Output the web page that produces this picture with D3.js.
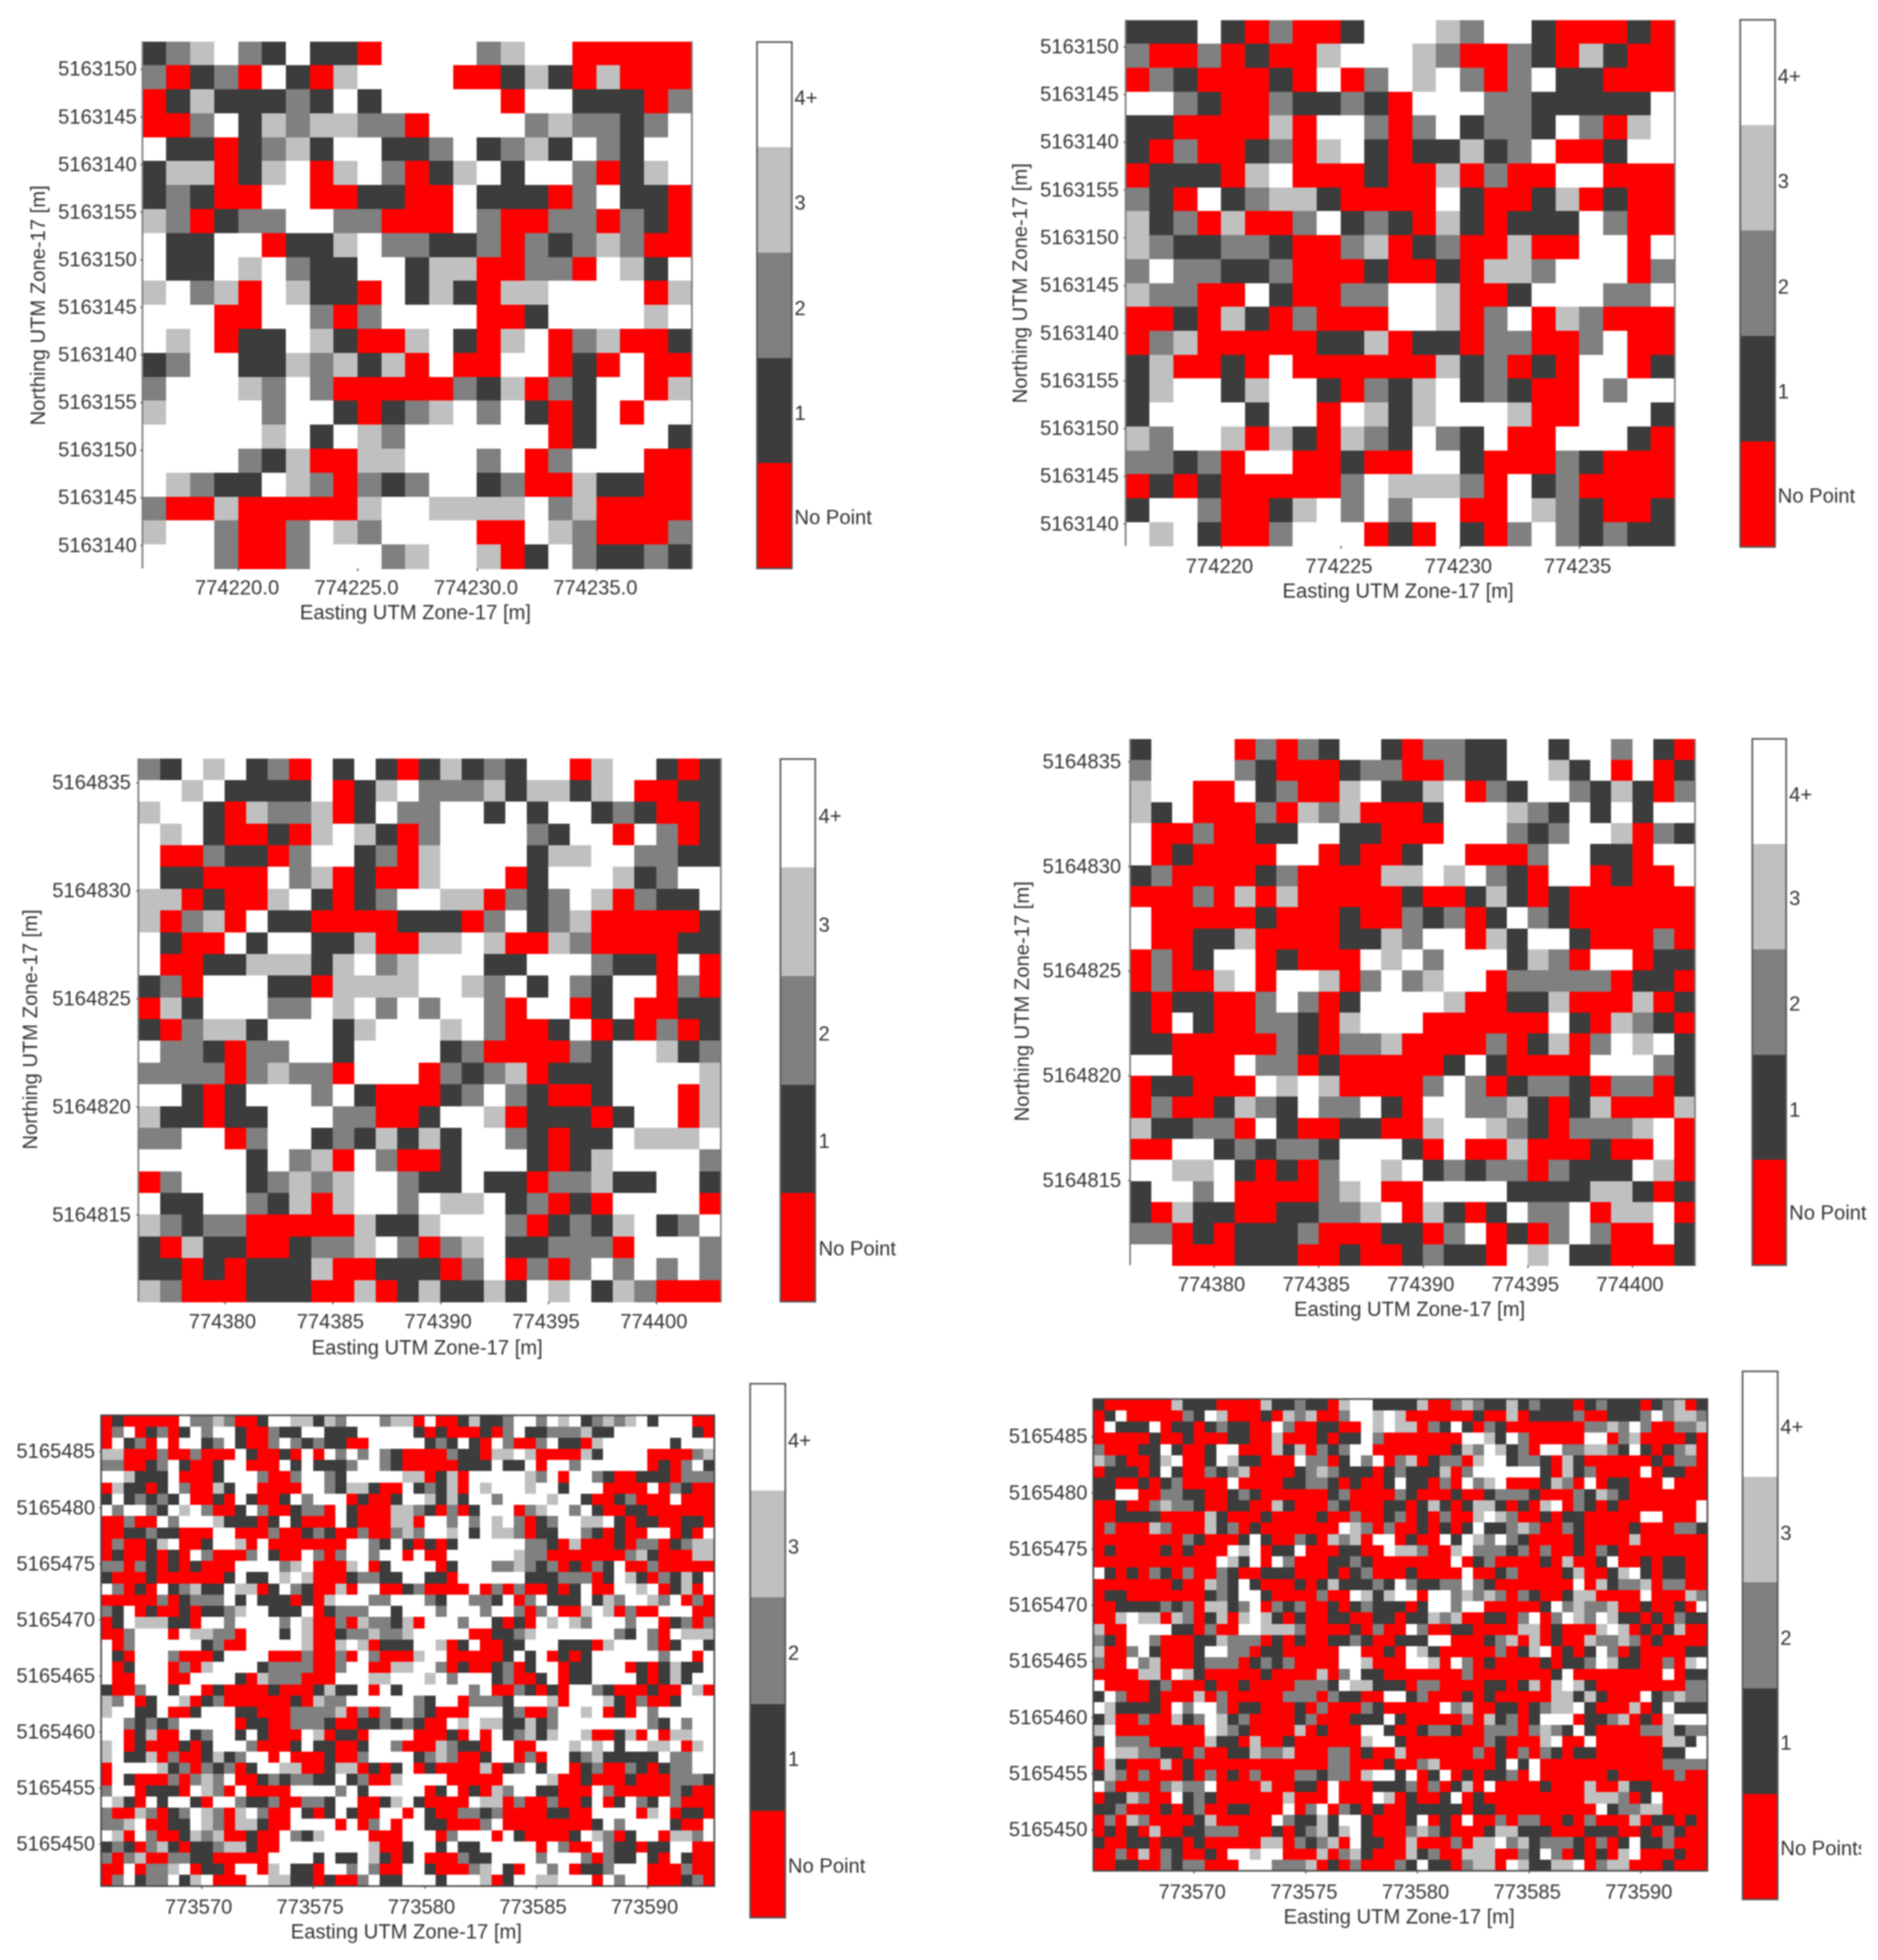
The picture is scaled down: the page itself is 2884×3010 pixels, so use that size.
<!DOCTYPE html>
<html><head><meta charset="utf-8">
<script src="https://cdn.jsdelivr.net/npm/d3@7/dist/d3.min.js"></script>
<style>
html,body{margin:0;padding:0;background:#fff;overflow:hidden}
svg{display:block;filter:blur(1px)}
text{font-family:"Liberation Sans",Arial,sans-serif;font-size:31px;fill:#333}
</style></head><body><svg id="c" width="2884" height="3010"></svg>
<script>
const levelColors=["#ff0000","#3c3c3c","#808080","#c0c0c0","#ffffff"];
const legendLabels=["4+","3","2","1","No Point"];
const xTitle="Easting UTM Zone-17 [m]";
const yTitle="Northing UTM Zone-17 [m]";
const north1=["5163150","5163145","5163140","5163155","5163150","5163145","5163140","5163155","5163150","5163145","5163140"];
const north2=["5164835","5164830","5164825","5164820","5164815"];
const north3=["5165485","5165480","5165475","5165470","5165465","5165460","5165455","5165450"];
const east1=[774220,774225,774230,774235];
const east2=[774380,774385,774390,774395,774400];
const east3=[773570,773575,773580,773585,773590];

const grid1=[
"12342141104444234400000","20120410344440013103000","01311121414444404411102","00241323322044442322124",
"41101231441124123142144","13301340342013414420134","12100440011004111024110","32012244220004200220210",
"41144011342211202123200","41143421144133002204314","34230431104131033444403","44400442024444001444434",
"43401143100341034023001","12441132313040044010400","24443242000002130214403","34444244101234241014044",
"44444341432444444014441","44442130033444240244400","43211432021244120031100","20030000034433334230000",
"34420024324444004320002","44420024442344301421121"];
const grid2=[
"11141020014443244100010","20020100344432002103100","02100010402434202411000","44210021121044422111114",
"11000030442024122142034","10200120341011312400144","01110340001003020044000","21041233100004100130100",
"31203002412103101114200","32112210023012003004404","24221120001001033244402","32200410022443001444224",
"00103102000443024032000","02300000113011022002400","13001040000003120104401","13441344102134121004244",
"14444144043134443004441","32443031032142140044410","22120440010044100021000","01010000024333204120000",
"14420013424244004321001","43410024440104102421211"];
const grid3=[
"214341204141013121440344101","443411114013422231331340011","344103223014224414144121001","434100103431024444214404201",
"400211024412034444133442211","411000423010034440144431244","330100341012443302124302114","302304110000111024123000001",
"410041441130033430032000011","400113331342344411444211040","120444110333344324142144020","031444224342424420440140011",
"102331444134443420014010201","422102244144441200002144312","222202322044402123011144443","441014442410001242100144403",
"311011444220014430111014403","224402441213131442101143334","444441423042001444101344442","024441232344211411022311441",
"411442130344243341201044440","321220000031134442012134124","103110012234202341122204442","110101113001110240202424242",
"320001110030131131434132000"];
const grid4=[
"144440202144102211441442410","244442100012200211443140401","344004120034113402144213102","314000203230001444321414144",
"400200114411000444212443021","401000044010014400024411044","120000120000334342104401004","000203030000010013101000000",
"400000100010021201421000000","400113000011324403144100020","020144010004342444132044011","020034044302423440222220110",
"101100242014444300113000301","104100221034440000004103210","110000021022300002013024341","440004220100000141000044421",
"011000434300002420122102201","020013214224104422310130003","311220410011003443210222340","004412122144410400300010040",
"443341010244341212202111430","144240000234004444111133101","103110011223403101422403340","220101112000110240102420041",
"440001110010012110434110001"];
const grid5=[
"0100000 4 22 3 2 00 1 44 33 1 3 2 444 2 33 0 4 00 1 3 11 2 44 2 4 3 4 1 2 3 2 3 4 1 444 00",
"0 2 4 0 1 2 0 1 4 2 44 1 00 2 11 44 111 44444 1 0 1 000 1 0 2 4 11 222 3 11 4444444 1 0",
"0 4 1 2 0 4 0 44 1 2 4 1 00 2 4 2 1 2 11 00 44444 1 2 1 4 1 0 4 2 00 2 4 11 0 3 444444 1 444",
"33 000 2 00 2 000 4 1 00 1 0 4 0 4 2 4 2 4 2 1 0000 2 11 0 33 4 3 0000 3 1 4444 0000 2 3",
"22 00 1 2 4 1 00 1 44 000 4 1 4 111 2 44 2 1 00000 111 4 11 4 0 44 2 444444 0 1 0 2 4 1",
"44 3 111 4 000 1 444 2 00 2 44 2 1 44444 33 0 1 3 0 44444 3 2 4 0 44 2 1 00 111 0 222",
"0 3 11 0 1 4 2 00 3 1 44 0000 44 2 1 33 1 00 4 1 2 1 3 0 4 3 444 3 44 1 444 0000 4 0 2 1 00",
"1 4 1 2 1 2 1 4 00 1 0 4 1 00 1 4 2 444 0 1 00 1 44 3 1 3 1 44 2 4444 3 44 1 00 1 2 000 4 000",
"4 2 44 2 1 4 3 4 2 00 1 4 2 00 1 22 0 4 1 000 33 2 1 0 2 0 1 444 0 2 3 44 2 4 1 00 11 000000",
"00 2 00 4 2 444 3 111 0 1 4 1 000 4 1 000 33 0 44 2 4 2 4 3 4 2 0 1 2 44 33 4 1 0 11 00 11 0",
"00 11 2 11 000 44 000 2 00 1 2 1 00 2 00 2 3 2 44 3 4 1 4 33 2 0 11 44 2 1 0 1 00 44 0 1 0 4",
"0 2 00 1 3 4 00 1 44 3 0 4 0000000 44 2 1 4 1 0 1 0 1 444444 22 1 0 3 000 1 0 22 0 1 2 33",
"0 1 00 1 0 1 0 4 2 000 2 4 1 00 4 2 0 2 44 2 44 0 4 00 444444 3 22 0000000 2 3 1 000 33",
"22 0 2 1 0 1 0 1 000 4444 2 3 4 000 3 4 0 1 4444 0 1 444 22 3 2 1 2 0 1 0 2 1 4 00 2 00000",
"1 000 1 000000 1 4 11 4 3 4 3 000 1 22 11 44 11 0 444444 111 222 0 1 4 3 1 0 2 1 3 1 4",
"4 2 0 1 0 4 1 2 3 11 4 33 0 1 4 2 1 00 3 0 44 00 1 2 0000 4 0 2 0 2 00 1 0 1 4 00 44 3 4 0 1 3 0 4",
"00000 2 0 1 2 22 4 1 4 111 0 1 0 3 444 22 444 2 1 44 22 1 4 0 2 4 111 4 1 3 2 44 3 2 4 0 2 0",
"2 1 4 0 1 00 1 0 11 2 3 44 111 4 0 1 222 44 1 444 2 444 2 44 2 0 2 4 00 3 4 3 0 2 00 444 00 22",
"0 1 4 333 11 0 44 2 4444 2 4 3 00 2 0 3 22 1 3 0 444 2 44 1 0 1 0 4 3 4 3 2 444 2 44 0 1 2 0 2",
"00 2 444 0 4 33 22 0 444 1 4 3 00 1 22 3 22 3 44444 00 11 2 3 4444444 2 1 4 2 0 4 333",
"4 0 2 444444 1 2 00 44444 3 00 3 4 3 0 111 44 3 0 1 4 00 11 444 111 0 3 444 2 0 1 44 1",
"4 1 0 444 2 000 1 4444 000 2 00 2 0 4 2 000 3 44 00000 1 4 1 4 0 1 0 1 444444 2 44 0 4",
"4 0 1 444 0 2 0 3 4444 1 2222 00 2 44 00 33 44 2 0 1 00 1 2 0 1 44 0 11 444 0 1 0 1 3 11 4",
"4 00 444 00 4444 1 0 3 222 000 444 33 444 3 4 2 444 1 2 00 1 4 0 11 4444 1 0 1 3 1 44",
"1 00 2 44 1 44 0 1 0000 1 000 1 3 11 4 0 4 1 444444 2 4 00 2 1 0 1 0 44 2 1 000 1 00 4 3 0",
"3 2 4 0 1 44 3 0 1 2 000000 1 0 3 22 444444 2 1 44 0 222 1 444 3 0 444 3 1 0 2 00 1 444",
"3 44 11 4 00 1 444 11 000 2222 3 0 2 0 2 44 2 1 000 444 1 2 00 2 44 3 4 0 1 0 4 2 44444",
"44 2 1 2 1 2 44444 0 11 00 222 1 00 11 2 1 2 1 00 4 3 4 33 11 3 1 2 44444444 2 1 4 2 44",
"44 0 1 3 00 4 1 2 44 1 4 1 000 4 3 0 11 0 4444 000 1 0 4 0 4 1 2 3 1 3 44 3 00 1 3 0 4 0 33 44",
"3 4 0 1 000 1 0 1 444 2 000 1 4 11 00 1 44 2 000 3 2 11 0 44 00 444 3 4 3 4 1 44 33 4 0 3 4",
"3 4 11 3 0 2 00 1 3 1 2 44 0 4 000 1 00 2 4444 1 2 3 2 00 1 44 0 2 0 44 1 2 3 11 111 4 22 44",
"0 4444 3 1 2 0 2 1 2 0 1 44 33 00 1 33 0 1 0 1 4 0 1 0000 3 0 1 2 4 1 44 0 1 2 00 2 1 0 1 22 44",
"0 4 1 000 2 0 2 3 2 4 00 1 2 1 22 11 4 1 2 00 3 4444 00000 4444 3 00 1 000 1 000 222 1",
"2 44 0 111 0 4 3 2 0 4 0000 4444 2 4 1 44444 0 1 4 0 1 0 3 2 44 11 000 4 2 00000 2 1 00",
"4 3 1 0 4 1 44 1 0 44 2 11 2 00 22 1 44 00 1 3 4 1 0000 4 33 0 2 00 2 00 1 4 0 1 4 2 1 4 2 000",
"2 00 3 2 0 1 2 4 3 2 0 3 4 2 00 4 1 0 1 4 1 00 44 0 4 1 00 22 1 2 0000 11 00 4444 0 3 4 0 11 0",
"22 3 4 00 11 4 3 2 0 33 1 00 4444 0 4 0 2 4 0 44 11 000 2 4 00000000 1 4 2 4444 1 00 4",
"4 3 0 4 2 00 1 3 2 3 00 1 00 4 2 1 3 4444 000 444 0 2 444 0 4 1 0000 1 4 3 2 0 1 44 0 33 2 4",
"1 2 1 0 2 3 1 0 11 2 3 3 1 00 44444444 3 00 1 44 1 4 11 44444 0 4 2 00 4 2 11 0 11 44 00",
"2 0 2 3 00 22 11 00000 4444 1 4 11 4 3 1 0 1 4 000 2 11 4444 2 444 2 0 2 11 4 1 0 4 1 00",
"00 4 0 22 3 4 0 11 0 44 0 3 4 11 0 44 2 4 2 00 44 1 000 2 3 4 1 0 44 2 4 0 11 2 444 000 2 00",
"0 2 4 1 22 4 1 3 4 000 44 33 11 0 1 00 2 4 11 444 1 444 3 0 1 44 33 444 0 4 2 44 000 1 2 0"];
const grid6=[
"1 000000 3 111 0000 3 11 2 11 0 3 44 1111 3 00 2 3 2 11 3 1 2 111 0 1 2 111 0 1 2 3 0 1",
"0 1 4 00000 2 1 4 3 0 00 1 0 3 2 3 00 2 44 3 4 3 000000 1 00 3 0 1111 2 00 111 2 4 2 33 2",
"0 4 111 4 0 11 0 1 2 11 00 4 2 00 11 00 4 3 4 33 0 2 1 4 1 0 2 1 0000000 22 3 2 4 2 00 22 3",
"00000 1 00 1 000 11 00 3 000 1 0 11 4 2 0000000 44 3 1 4 2 00000 44 0 2 3 0000 1 0",
"2 000 11 4 1 00 1 44 000 3 1 3 0 2 1 2 44 0000000 1 3 2 4 3 1 2 0 44 22 33 2 1 4 1 0 1 2 3 0",
"3 2 1 00 1 3 4 00 1 4 3 11 000 4 22 0 1 4 2 4 0 2 3 0 1 22 0 3 44 1 22 1 0 3 1 000000 1 0 22 00",
"0 1 11 0 1 4 2 00 3 1 2 0000 1 2 3 2 111 0 1 2 111 3 0 2 444 44 4 1 0 3 1 2 0000 4 0 11 00".replace("4 2 00 3 1 2 0000","4 1 00 2 1 2 3 0000"),
"11 00 1 0 1 2 0000 4 0000 11 22 1 0 1 00 1 4 11 0 2 0 4 2 3 4 000 1 3 2 0 4 0 11 000 4 000",
"11 44 00 22 11 00 1 2 1 000000 1 2 0000 2 1 000 1 00 1 222 1 00 0 2 1 3 2 1 00 00000000",
"00 1 00 2 3 22 1 00 11 00 3 1 000 2 1 000 11 0 1 3 1 0 1 3 3 1 0 1 0 3 4 0 2 1 0 1 0000000 4",
"00 1111 0000 3 1 000 1 0000 1 00 2 00 1 2 0 1 0 2 00 3 4 3 2 00 1 0 11 00000 44 000 4",
"0 2 000 3 2 000 3 1 2 0 1 0000000 4 3 2 0 2 00 1 0 1 0 1 4 11 2 3 2 00 2 1 0000 1 000 22 1",
"00000000 2 1 000 1 4 1 00 2 1 0 3 2 3 0 44 0 1 00 4 1 4 3 2 4 2 1 0000 1 0000 3 000000",
"0 1 0000 1 0 1 000 4 3 4 0 11 4 000 11 00 4 33 2 00 3 4 222 1 2 0 2 00 1 0 2 1 00000000",
"00000000000 4 3 1 4 0 4 2 000 11 2 1 000 0000 4 0 1 2 0000 1 0 3 00 1 4 00 1 0 11 0",
"4 1 0 1 0 2 1 0 2 00 2 1 00 111 000 1 0 1 2 000 1 0000 4 00 1 2 0000 1 3 00 1 3 4 1 0 11 00",
"0000000 1 00 3 2 1 4 1 000 1 0 1 3 111 2 1 4 2 11 22 4 2 1 0000000 4 0 3 1 22 3 0 22 00",
"0 11 0000000 1 2 1 44 1 0000 2 00 4 3 1 3 44 0 44 2 3 2 3 2 0 2 1 00 1 33 0000 4 000 3 2",
"00 1111 2 1 2 0 33 1 2 4 0 2 1 2 00 1 0 1 2 111 0 1 44 2 44 00000 1 4 2 3 22 3 00 1 00 1 0 4",
"00 3 4 33 0 3 2 0 1 3 0 3 4 3 1 0 1 00 11 00 11 0 11 3 2 3 00 11 0 2 4 0 2 4 3 2 4 3 11 0 1 0 2 11",
"3 00 44 44 11 0 2 00 44 333 2 0000 1 0 2 00 4 2 00 11 0000 33 0 1 000 3 4 3 0 1 0 1 3 00",
"2 1 0 44 2 000 11 3 222 0 1 0 1 00 11 2 1 00 111 44 000 1 2 3 0 3 0 1 00 3 22 3 2 0 1 0000",
"3 00 2 4 1 000 1 44 22 0 11 00000 44 00 1 0 4 3 1 00000 2 0 1 3 4 0 1 0 1 4 2 0 1 0000 11",
"2 00 4 2 3 000 1 222 0 1 2 1 2 0000 44 3 000 44 3 0 4 2 0 1 0000 1 0 11 2 4 3 11 00 2 0 3 4",
"0000 33 0 4 3 1 00000 1 0000 3 0 2 4 11 000000 0 2 0000000 1 4 00000000 4 0 11",
"4 0000 1 2 000 1 00 1 0000 222 1 4 3 3 111 0 22 0000 11 0 1 3 0 3 4 3 1 00000000 222",
"1 4 2 00 1 000 3 0 2 00000 222 0 2 11 00 44 1 2 000 1 0 1 00000 33 1 3 1 000 4 1 2 3 22",
"4 3 1111 0 4 2 4 4 2 0 11 000 1 0 2 000 2 1 00000 4 2 3 00 11 0 1 2 33 4 1 000 3 0 1 4 111",
"1 3 00 2 00 3 1 2 4 3 1 2 0000 1 2 0 00 111 4 1 00000 2 0 3 1 2 0 1 444 0 11 2 3 0 1 0 3 444",
"3 4 00000000 4 3 2 1 0000 3 0 1 000 44 1 00 1 22 1 00 222 0 2 3 2 1 4 1 0000 22 3 1 22",
"1 4 22 2 00000 3 11 0 3 00 1 000000 3 44 1 0000000 2 1 000 3 4 00 4 000000 33 1 4",
"0 4 33 2 2 11 0 2 00 11 3 22 3 000 22 0 1 00 3 000000 2 0 1 0 2 0 2 1 0 11 000000 11 44",
"0 3 1 000 3 0 1 000000 000000 22 000 1 00 2 3 00000 1 4 1 4 00000000000 22 22",
"1 3 2 0 2 0 00 1 0 2 0 1 0 2 000 22 1 22 0 3 44 1 4 0 1 4 0 1 0 11 2 0 4 000000 1 00000 2 000",
"4 2 0000 2 3 22 4 0000 3 00 11 0 4 000 111 2 0 2 0 1 3 0 4 0000 1 000 3 00 3 11 00000",
"0 11 3 2 00 4 1 2 1 000000 3 000 4 000 4 3 0 1 00 1 4 0 1 000000000 3 33 2 0 1 4 0000",
"11 2 000 1 0 1 2 00 11 000 4 0 2 4 0 2 1 0 1 00 11111 0 11 000000000 4 1 22 33 0000",
"0 2 0 3 2 0000 1 3 00000 4 2 11 3 1 44 1 000 1 4 0 1 0 4 00 2 0 22 00 1 0 2 000 3 0 11 0 1 0",
"0 1 0 1 0 3 00 11 222 000 1 0 1 2 3 1 3 4 1 000 2 3 2 1 000 1 33 111 000 111 00 1 0 2 1 00",
"1 00 11 0 11 0 1 00000 33 0 2 1 2 3 0 4 11 00 3 000 2 0 33 4 2 3 1 222 1 0 2 0 1 4 11 2 000",
"00 2 0 3 0 2 1 00 1 0 44 3 44 000 3 0 2 3 1 000 3 1 2 00 333 00 2 1 4 2 0 1 0 1 0 3 4 000 1 00",
"00 11 00 2 1 22 000 444 222 3 0 1 0 2 000 2 1 4 11 0 2 33 0 4 3 11 33 4 0 2 33 000 1 000"];

const layouts=[
 {grid:grid1,box:[218.8,1062.5,63.5,873],east:[774216,774239],cell:1,ticks:east1,fmt:d=>d.toFixed(1),north:north1,firstRow:1.155,stepRow:1.987,bar:[1162.5,1216,64.6,873],legX:1220,legY:[150,311,473,634,794],xTickY:902,xTitleY:940.6,xTitleX:638,yLabX:210,yTitleX:58,yTitleY:469,xDx:-2},
 {grid:grid2,box:[1728.6,2572,30.5,838.5],east:[774216,774239],cell:1,ticks:east1,fmt:d=>String(d),north:north1,firstRow:1.117,stepRow:1.995,bar:[2672.4,2726,30.5,840],legX:2730,legY:[116.8,278,440,601,761],xTickY:869.5,xTitleY:907.6,xTitleX:2147,yLabX:1718,yTitleX:1566,yTitleY:435,xDx:-3},
 {grid:grid3,box:[212.5,1107,1164.5,1999],east:[774376,774403],cell:1,ticks:east2,fmt:d=>String(d),north:north2,firstRow:1.12,stepRow:4.97,bar:[1198.5,1252,1165.7,1999],legX:1257,legY:[1253,1420,1587,1752,1917.5],xTickY:2029,xTitleY:2069.3,xTitleX:656,yLabX:201,yTitleX:46,yTitleY:1581,xDx:-4},
 {grid:grid4,box:[1735.5,2603,1134.7,1943],east:[774376,774403],cell:1,ticks:east2,fmt:d=>String(d),north:north2,firstRow:1.08,stepRow:4.97,bar:[2691,2743,1134.7,1943],legX:2747.5,legY:[1219.7,1379,1541,1704,1862],xTickY:1972,xTitleY:2010.6,xTitleX:2164.7,yLabX:1721.7,yTitleX:1569,yTitleY:1537.7,xDx:-4},
 {grid:grid5,box:[155.3,1097,2173.4,2896.6],east:[773565.5,773593],cell:.5,ticks:east3,fmt:d=>String(d),north:north3,firstRow:3.23,stepRow:5,bar:[1152,1206,2125,2945],legX:1210,legY:[2212,2375,2538,2701,2865],xTickY:2928,xTitleY:2966,xTitleX:624,yLabX:146,framed:true,xDx:-5},
 {grid:grid6,box:[1679,2622,2148.6,2873],east:[773565.5,773593],cell:.5,ticks:east3,fmt:d=>String(d),north:north3,firstRow:3.33,stepRow:5,bar:[2676,2730,2106,2917],legX:2734,legY:[2190.7,2354,2515,2676,2838],xTickY:2905,xTitleY:2943,xTitleX:2148.6,yLabX:1670,framed:true,legClip:2858,xDx:-3}
];

const svg=d3.select("#c");
const color=d3.scaleOrdinal([0,1,2,3,4],levelColors);
layouts.forEach((p,pi)=>{
  const [x0,x1,y0,y1]=p.box;
  const nCols=Math.round((p.east[1]-p.east[0])/p.cell);
  const rows=p.grid.map(s=>{
    const t=s.replace(/\s/g,"").slice(0,nCols).padEnd(nCols,"0");
    return Array.from(t,Number);
  });
  const x=d3.scaleLinear().domain(p.east).range([x0,x1]);
  const yRow=d3.scaleLinear().domain([0,rows.length]).range([y0,y1]);
  const g=svg.append("g");
  const cells=rows.flatMap((r,ri)=>r.map((v,ci)=>({ri,ci,v})));
  g.selectAll("rect").data(cells).join("rect")
    .attr("x",d=>x(p.east[0]+d.ci*p.cell))
    .attr("y",d=>yRow(d.ri))
    .attr("width",x(p.east[0]+p.cell)-x(p.east[0])+.5)
    .attr("height",yRow(1)-yRow(0)+.5)
    .attr("fill",d=>color(d.v))
    .attr("shape-rendering","crispEdges");
  const fr=g.append("path").attr("fill","none").attr("stroke",p.framed?"#444":"#777").attr("stroke-width",2.5);
  fr.attr("d",p.framed?`M${x0},${y0}H${x1}V${y1}H${x0}Z`:`M${x0},${y0}V${y1}M${x1},${y0}V${y1}`);
  const ax=d3.axisBottom(x).tickValues(p.ticks).tickFormat(p.fmt).tickSize(4).tickPadding(0);
  const axG=svg.append("g").attr("transform",`translate(0,${y1})`).call(ax);
  axG.select(".domain").remove();
  axG.selectAll("line").attr("stroke","#555").attr("stroke-width",2);
  axG.selectAll("text").attr("x",p.xDx).attr("y",p.xTickY-y1).attr("dy","0.35em").style("font-size","31px").style("font-family",'"Liberation Sans"');
  const tickRows=p.north.map((_,i)=>p.firstRow+i*p.stepRow);
  const ay=d3.axisLeft(yRow).tickValues(tickRows).tickFormat((d,i)=>p.north[i]).tickSize(3).tickPadding(0);
  const ayG=svg.append("g").attr("transform",`translate(${x0},0)`).call(ay);
  ayG.select(".domain").remove();
  ayG.selectAll("line").attr("stroke","#555").attr("stroke-width",2);
  ayG.selectAll("text").attr("x",p.yLabX-x0).style("font-size","31px").style("font-family",'"Liberation Sans"');
  svg.append("text").attr("x",p.xTitleX).attr("y",p.xTitleY).attr("dy","0.35em").attr("text-anchor","middle").text(xTitle);
  if(p.yTitleX!==undefined){
    svg.append("text").attr("transform",`translate(${p.yTitleX},${p.yTitleY}) rotate(-90)`).attr("dy","0.35em").attr("text-anchor","middle").text(yTitle);
  }
  const [bx0,bx1,by0,by1]=p.bar;
  const band=d3.scaleBand().domain([4,3,2,1,0]).range([by0,by1]);
  const bg=svg.append("g");
  bg.selectAll("rect").data(band.domain()).join("rect")
    .attr("x",bx0).attr("width",bx1-bx0).attr("y",d=>band(d)).attr("height",band.bandwidth())
    .attr("fill",d=>color(d)).attr("shape-rendering","crispEdges");
  bg.append("rect").attr("x",bx0).attr("y",by0).attr("width",bx1-bx0).attr("height",by1-by0)
    .attr("fill","none").attr("stroke","#555").attr("stroke-width",2.5);
  let clip=null;
  if(p.legClip){
    svg.append("clipPath").attr("id","lc"+pi).append("rect").attr("x",bx1).attr("y",by0).attr("width",p.legClip-bx1).attr("height",by1-by0);
    clip=`url(#lc${pi})`;
  }
  const lg=svg.append("g").attr("clip-path",clip);
  legendLabels.forEach((t,i)=>{
    lg.append("text").attr("x",p.legX).attr("y",p.legY[i]).attr("dy","0.35em").text(p.legClip&&i===4?t+"s":t);
  });
});
</script></body></html>
